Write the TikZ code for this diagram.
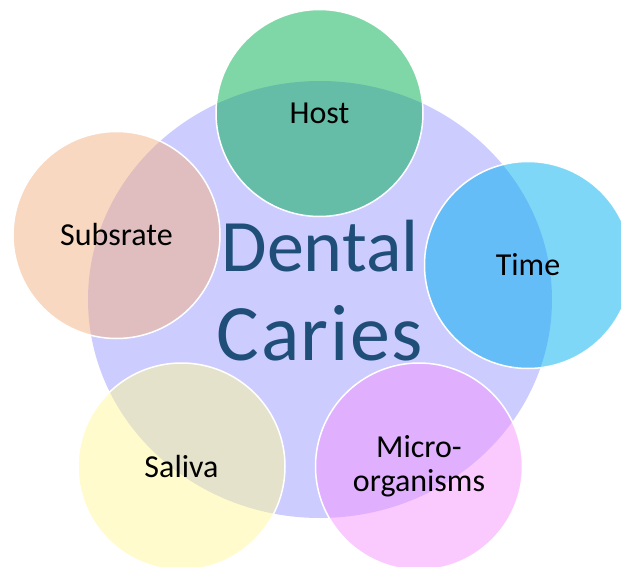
\documentclass[tikz,border=0pt]{standalone}
\usepackage{fontspec}
\setmainfont{Carlito}
\usepackage{tikz}
\usetikzlibrary{shapes.geometric}
\definecolor{dcBack}{HTML}{CCCCFF}
\definecolor{dcHost}{HTML}{00B050}
\definecolor{dcTime}{HTML}{00B0F0}
\definecolor{dcSub}{HTML}{F4B183}
\definecolor{dcSaliva}{HTML}{FFF899}
\definecolor{dcMicro}{HTML}{F596FF}
\definecolor{dcTitle}{HTML}{1F4E79}

\begin{document}
\begin{tikzpicture}[x=1pt, y=-1pt,
  core/.style={ellipse, fill=dcBack, minimum width=464pt, minimum height=437pt,
               inner sep=0pt},
  title/.style={font=\fontsize{74}{89}\selectfont, text=dcTitle, align=center},
  factor/.style={circle, minimum size=207pt, inner sep=0pt, draw=white,
                 line width=1.5pt, fill opacity=0.5, text opacity=1,
                 font=\fontsize{32}{34}\selectfont, align=center}
]
  \useasboundingbox (0,0) rectangle (621,567);
  \node[core] (caries) at (320,299.5) {};
  \node[title] (name) at (320,291)
    {Dental\\{\fontsize{80}{89}\selectfont\addfontfeature{LetterSpace=2}Caries}};

  \node[factor, fill=dcHost] (host) at (319.5,113) {Host};
  \node[factor, fill=dcTime] (time) at (528,265) {Time};
  \node[factor, fill=dcMicro] (micro) at (419,466.5) {Micro-\\organisms};
  \node[factor, fill=dcSaliva] (saliva) at (181.5,466.5) {Saliva};
  \node[factor, fill=dcSub] (sub) at (116.5,235) {Subsrate};
\end{tikzpicture}
\end{document}
